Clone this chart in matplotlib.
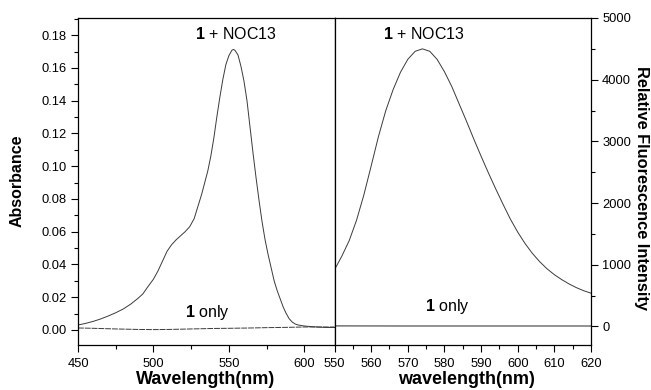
import matplotlib.pyplot as plt
from matplotlib.ticker import MultipleLocator

plt.rcParams['font.family'] = ['Liberation Sans', 'DejaVu Sans']
plt.rcParams['mathtext.fontset'] = 'custom'
plt.rcParams['mathtext.bf'] = 'Liberation Sans:bold'
plt.rcParams['mathtext.rm'] = 'Liberation Sans'

# absorbance spectra (left panel)
abs_wl = [450, 455, 460, 465, 470, 475, 480, 485, 490, 493, 496, 500, 503, 506,
          509, 512, 515, 518, 521, 524, 527, 530, 532, 534, 536, 538, 540, 542,
          544, 546, 548, 550, 552, 553, 554, 556, 558, 560, 562, 564, 566, 568,
          570, 572, 574, 576, 578, 580, 582, 584, 586, 588, 590, 592, 594, 596,
          600, 605, 610, 615, 620]
abs_noc = [0.003, 0.004, 0.0052, 0.0067, 0.0085, 0.0105, 0.0128, 0.0158, 0.0195,
           0.022, 0.026, 0.031, 0.036, 0.042, 0.048, 0.052, 0.055, 0.0575, 0.060,
           0.063, 0.068, 0.077, 0.083, 0.090, 0.097, 0.106, 0.117, 0.130, 0.142,
           0.153, 0.162, 0.1675, 0.1708, 0.1713, 0.1708, 0.168, 0.161, 0.152,
           0.140, 0.124, 0.108, 0.093, 0.079, 0.066, 0.055, 0.046, 0.038, 0.030,
           0.024, 0.019, 0.014, 0.010, 0.0068, 0.0048, 0.0036, 0.003, 0.0024,
           0.002, 0.0017, 0.0015, 0.0015]
abs_only_wl = [450, 460, 475, 490, 500, 510, 525, 540, 550, 565, 575, 590, 600, 610, 620]
abs_only = [0.0012, 0.0010, 0.0006, 0.0003, 0.0002, 0.0003, 0.0006, 0.0009, 0.0010,
            0.0012, 0.0014, 0.0016, 0.0018, 0.0018, 0.0018]

# fluorescence spectra (right panel)
fl_wl = [550, 552, 554, 556, 558, 560, 562, 564, 566, 568, 570, 572, 574, 576,
         578, 580, 582, 584, 586, 588, 590, 592, 594, 596, 598, 600, 602, 604,
         606, 608, 610, 612, 614, 616, 618, 620]
fl_noc = [920, 1140, 1390, 1720, 2130, 2600, 3080, 3500, 3840, 4120, 4330, 4460,
          4500, 4460, 4330, 4130, 3890, 3610, 3330, 3040, 2760, 2490, 2230, 1980,
          1740, 1530, 1345, 1185, 1050, 935, 840, 760, 690, 630, 580, 540]
fl_only_wl = [550, 570, 590, 610, 620]
fl_only = [10, 8, 8, 8, 8]

W, H = 651, 390
fig = plt.figure(figsize=(W / 100, H / 100), dpi=100)
bottom = (H - 345) / H
height = (345 - 18) / H
ax1 = fig.add_axes([78 / W, bottom, (334.5 - 78) / W, height])
ax2 = fig.add_axes([334.5 / W, bottom, (591 - 334.5) / W, height])

lc = '#3a3a3a'
ax1.plot(abs_wl, abs_noc, color=lc, lw=0.7)
ax1.plot(abs_only_wl, abs_only, color=lc, lw=0.7, ls=(0, (6, 1)))
ax2.plot(fl_wl, fl_noc, color=lc, lw=0.7)
ax2.plot(fl_only_wl, fl_only, color='#666666', lw=1.0)

ax1.set_xlim(450, 620)
ax1.set_ylim(-0.0092, 0.1905)
ax1.xaxis.set_major_locator(MultipleLocator(50))
ax1.xaxis.set_minor_locator(MultipleLocator(25))
ax1.yaxis.set_major_locator(MultipleLocator(0.02))
ax1.yaxis.set_minor_locator(MultipleLocator(0.01))
ax1.set_xticks([450, 500, 550, 600])
ax1.set_yticks([0.0, 0.02, 0.04, 0.06, 0.08, 0.10, 0.12, 0.14, 0.16, 0.18])
ax1.set_yticklabels(['%.2f' % v for v in ax1.get_yticks()])

ax2.set_xlim(550, 620)
ax2.set_ylim(-300, 5000)
ax2.xaxis.set_major_locator(MultipleLocator(10))
ax2.xaxis.set_minor_locator(MultipleLocator(5))
ax2.yaxis.set_major_locator(MultipleLocator(1000))
ax2.yaxis.set_minor_locator(MultipleLocator(500))
ax2.yaxis.tick_right()

for ax in (ax1, ax2):
    ax.tick_params(which='major', direction='out', length=5, width=0.8,
                   labelsize=9.3, pad=3)
    ax.tick_params(axis='x', which='major', pad=4.5)
    ax.tick_params(which='minor', direction='out', length=3, width=0.8)
    for s in ax.spines.values():
        s.set_linewidth(0.9)

# axis titles placed directly in figure pixels
def ftext(x, y, s, **kw):
    fig.text(x / W, 1 - y / H, s, ha='center', va='center', **kw)

ftext(206, 380, 'Wavelength(nm)', fontsize=13, fontweight='bold')
ftext(466, 380, 'wavelength(nm)', fontsize=13, fontweight='bold')
ftext(17, 181, 'Absorbance', fontsize=11.5, fontweight='bold', rotation=90)
ftext(641, 188, 'Relative Fluorescence Intensity', fontsize=11.8,
      fontweight='bold', rotation=270)

ftext(236, 34, r'$\mathbf{1}$ + NOC13', fontsize=11.5)
ftext(207, 313, r'$\mathbf{1}$ only', fontsize=11.5)
ftext(424, 34, r'$\mathbf{1}$ + NOC13', fontsize=11.5)
ftext(447, 307, r'$\mathbf{1}$ only', fontsize=11.5)

fig.savefig('out.png', dpi=100)
